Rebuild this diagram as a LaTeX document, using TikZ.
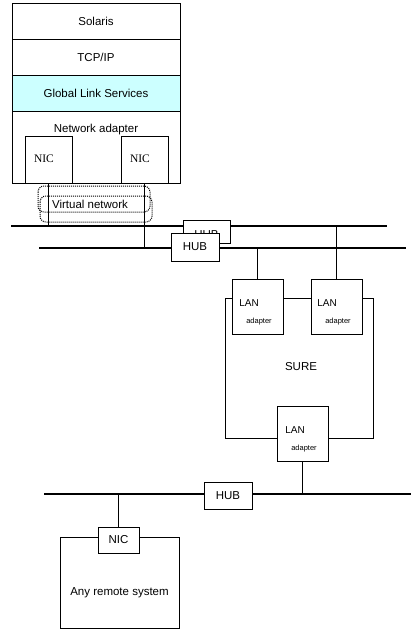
\documentclass[tikz,border=0pt]{standalone}
\usepackage{fontspec}
\setmainfont{Liberation Sans}
\newfontfamily\serifnic{Liberation Serif}
\begin{document}
\begin{tikzpicture}[x=1pt,y=-1pt,
  box/.style={draw, line width=0.8pt, inner sep=0pt, font=\fontsize{11.5}{13}\selectfont},
  wbox/.style={box, fill=white},
  bus/.style={line width=2.6pt},
  link/.style={line width=0.8pt},
  vnet/.style={densely dotted, line width=1pt, rounded corners=6pt},
  lbl/.style={inner sep=0pt, font=\fontsize{11.5}{13}\selectfont}]
\useasboundingbox (0,0) rectangle (414,635);
% host stack
\node[box, minimum width=168pt, minimum height=36pt] (sol) at (96,21) {Solaris};
\node[box, minimum width=168pt, minimum height=36pt] (tcp) at (96,57) {TCP/IP};
\node[box, fill={rgb,255:red,204;green,255;blue,255}, minimum width=168pt, minimum height=36pt] (gls) at (96,93) {Global Link Services};
\node[box, minimum width=168pt, minimum height=72pt] (netad) at (96,147) {};
\node[lbl] (netadl) at (96,130) {Network adapter};
\node[box, minimum width=47pt, minimum height=47pt] (nic1) at (48.5,159.5) {};
\node[lbl, font=\serifnic\fontsize{11.5}{13}\selectfont] (nic1l) at (44,159) {NIC};
\node[box, minimum width=47pt, minimum height=47pt] (nic2) at (144.5,159.5) {};
\node[lbl, font=\serifnic\fontsize{11.5}{13}\selectfont] (nic2l) at (140,159) {NIC};
% virtual network
\draw[vnet] (38,186) rectangle (150,212);
\draw[vnet] (40,196) rectangle (152,222);
\node[lbl] (vnl) at (90,204) {Virtual network};
% buses
\coordinate (b1w) at (11,226); \coordinate (b1e) at (387,226);
\coordinate (b2w) at (39,248); \coordinate (b2e) at (406,248);
\coordinate (b3w) at (44,494); \coordinate (b3e) at (411,494);
\draw[bus] (b1w) -- (b1e);
\draw[bus] (b2w) -- (b2e);
\draw[bus] (b3w) -- (b3e);
% connectors host
\draw[link] (nic1.south) -- (nic1.south |- b1w);
\draw[link] (nic2.south) -- (nic2.south |- b2w);
% hubs
\node[wbox, minimum width=47pt, minimum height=23pt] (hub1) at (206.5,231.5) {};
\node[lbl] (hub1l) at (206.5,234.5) {HUB};
\node[wbox, minimum width=48pt, minimum height=28pt] (hub2) at (195,247) {HUB};
\node[wbox, minimum width=48pt, minimum height=27pt] (hub3) at (228,495.5) {HUB};
% SURE
\draw[link] (225,298) rectangle (373,438);
\node[lbl] (sure) at (301,367) {SURE};
\node[wbox, minimum width=51pt, minimum height=55pt] (lan1) at (257.5,306.5) {};
\node[wbox, minimum width=51pt, minimum height=55pt] (lan2) at (336.5,306.5) {};
\node[wbox, minimum width=51pt, minimum height=55pt] (lan3) at (302.5,433.5) {};
\node[lbl, font=\fontsize{10}{11}\selectfont] (lan1a) at (249,303) {LAN};
\node[lbl, font=\fontsize{7.5}{8}\selectfont] (lan1b) at (259,322) {adapter};
\node[lbl, font=\fontsize{10}{11}\selectfont] (lan2a) at (327,303) {LAN};
\node[lbl, font=\fontsize{7.5}{8}\selectfont] (lan2b) at (338,322) {adapter};
\node[lbl, font=\fontsize{10}{11}\selectfont] (lan3a) at (295,430) {LAN};
\node[lbl, font=\fontsize{7.5}{8}\selectfont] (lan3b) at (304,449) {adapter};
\draw[link] (lan1.north) -- (lan1.north |- b2w);
\draw[link] (lan2.north) -- (lan2.north |- b1w);
\draw[link] (lan3.south) -- (lan3.south |- b3w);
% remote system
\node[box, minimum width=119pt, minimum height=91pt] (remote) at (119.5,582.5) {};
\node[lbl] (remotel) at (119.5,593) {Any remote system};
\node[wbox, minimum width=41pt, minimum height=26pt] (rnic) at (118.5,540) {NIC};
\draw[link] (rnic.north) -- (rnic.north |- b3w);
\end{tikzpicture}
\end{document}
